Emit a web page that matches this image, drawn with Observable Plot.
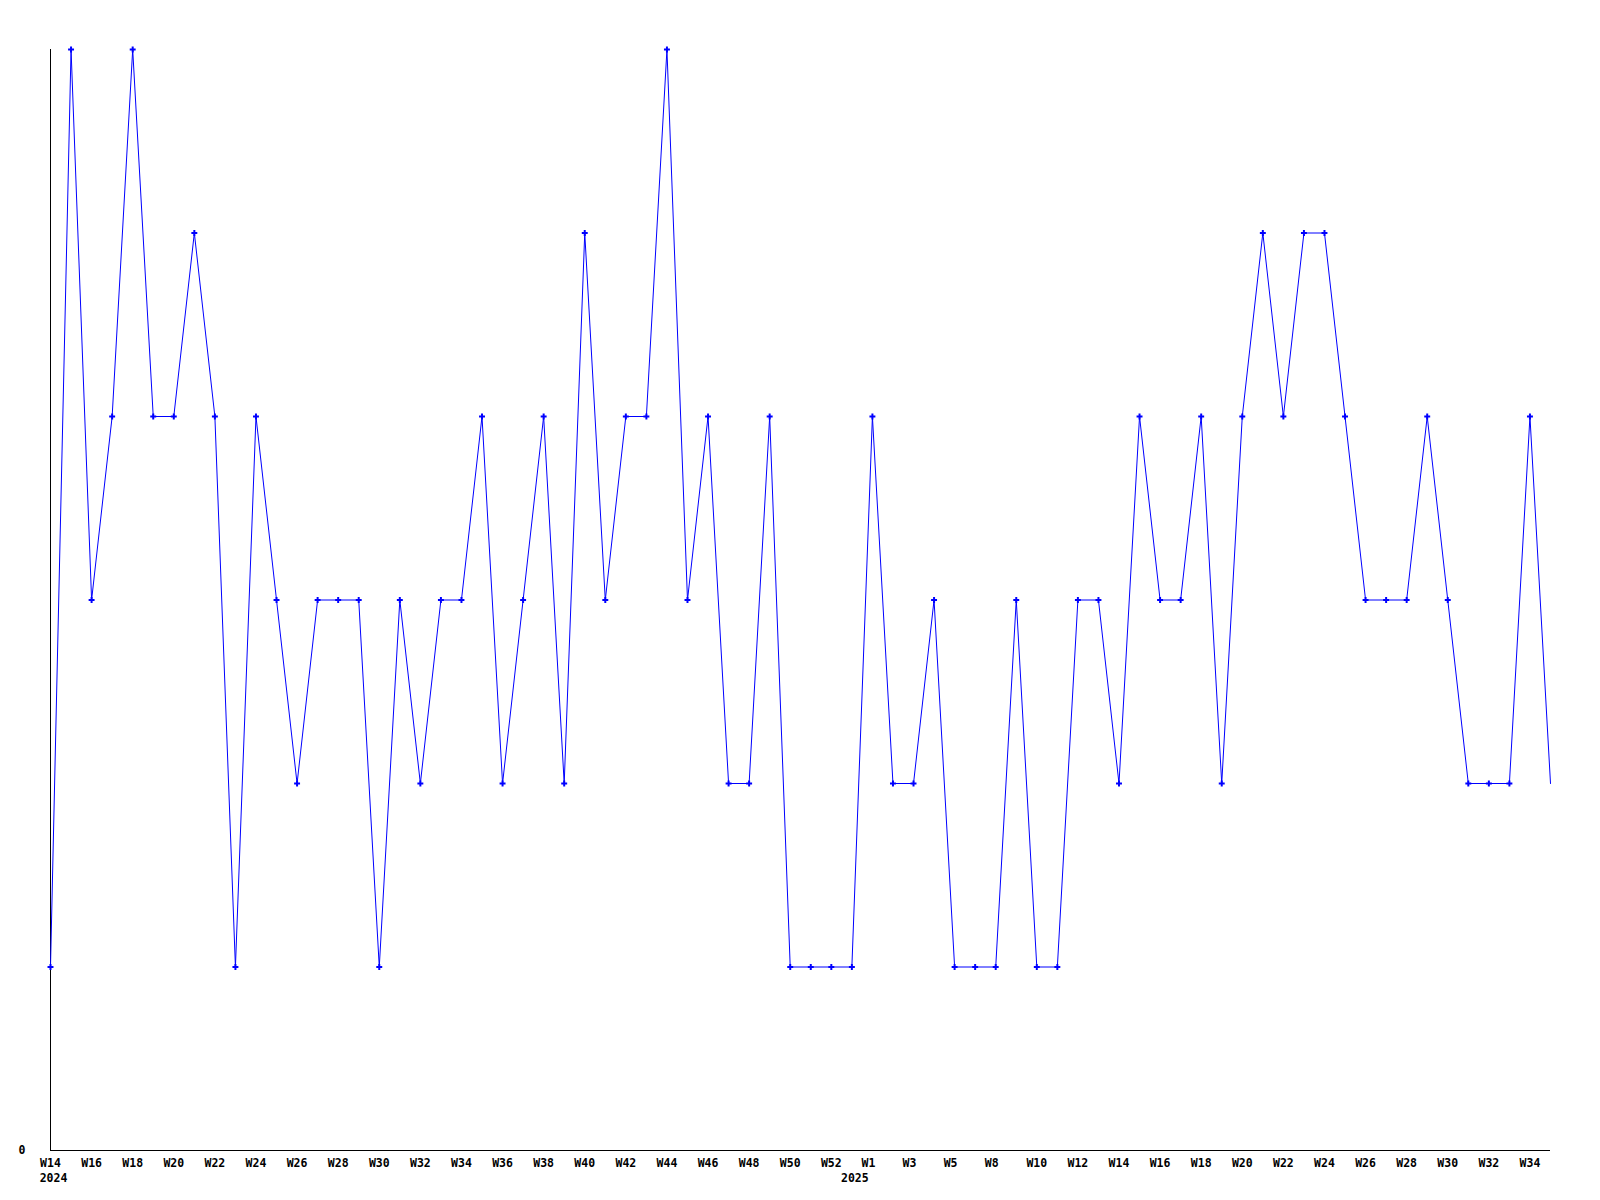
<!DOCTYPE html>
<html>
<head>
<meta charset="utf-8">
<script src="https://cdn.jsdelivr.net/npm/d3@7"></script>
<script src="https://cdn.jsdelivr.net/npm/@observablehq/plot@0.6"></script>
<style>
  html, body { margin: 0; padding: 0; background: #fff; }
  #chart svg { display: block; }
</style>
</head>
<body>
<div id="chart"></div>
<script>
// Weekly values, 2024-W14 through 2025-W35
const weeks = [
  "2024-W14","2024-W15","2024-W16","2024-W17","2024-W18","2024-W19","2024-W20","2024-W21","2024-W22","2024-W23",
  "2024-W24","2024-W25","2024-W26","2024-W27","2024-W28","2024-W29","2024-W30","2024-W31","2024-W32","2024-W33",
  "2024-W34","2024-W35","2024-W36","2024-W37","2024-W38","2024-W39","2024-W40","2024-W41","2024-W42","2024-W43",
  "2024-W44","2024-W45","2024-W46","2024-W47","2024-W48","2024-W49","2024-W50","2024-W51","2024-W52",
  "2025-W01","2025-W02","2025-W03","2025-W04","2025-W05","2025-W06","2025-W07","2025-W08","2025-W09","2025-W10",
  "2025-W11","2025-W12","2025-W13","2025-W14","2025-W15","2025-W16","2025-W17","2025-W18","2025-W19","2025-W20",
  "2025-W21","2025-W22","2025-W23","2025-W24","2025-W25","2025-W26","2025-W27","2025-W28","2025-W29","2025-W30",
  "2025-W31","2025-W32","2025-W33","2025-W34","2025-W35"
];
const values = [
  1,6,3,4,6,4,4,5,4,1,
  4,3,2,3,3,3,1,3,2,3,
  3,4,2,3,4,2,5,3,4,4,
  6,3,4,2,2,4,1,1,1,
  1,4,2,2,3,1,1,1,3,1,
  1,3,3,2,4,3,3,4,2,4,
  5,4,5,5,4,3,3,3,4,3,
  2,2,2,4,2
];
// Tick labels as printed on the reference axis (by point index)
const tickIndex = [0,2,4,6,8,10,12,14,16,18,20,22,24,26,28,30,32,34,36,38,
                   48,50,52,54,56,58,60,62,64,66,68,70,72];
const tickLabels = ["W14","W16","W18","W20","W22","W24","W26","W28","W30","W32","W34","W36","W38","W40",
                    "W42","W44","W46","W48","W50","W52",
                    "W10","W12","W14","W16","W18","W20","W22","W24","W26","W28","W30","W32","W34"];
const tickIndexB = [40,42,44,46];
const tickLabelsB = ["W1","W3","W5","W8"];
const yearIndex = [0,39];
const yearLabels = ["2024","2025"];

const data = values.map((v, i) => ({i, week: weeks[i], value: v}));
const labelMap = new Map(tickIndex.map((t, k) => [t, tickLabels[k]]));
const labelMapB = new Map(tickIndexB.map((t, k) => [t, tickLabelsB[k]]));
const years = yearIndex.map((t, k) => ({i: t, label: yearLabels[k]}));

const font = "'DejaVu Sans Mono', 'Liberation Mono', monospace";
const blue = "#0000ff";

const chart = Plot.plot({
  width: 1600,
  height: 1200,
  marginLeft: 50,
  marginRight: 50,
  marginTop: 49,
  marginBottom: 50,
  style: {fontFamily: font, fontSize: "11.5px", fontWeight: "bold", color: "#000", background: "#fff"},
  x: {domain: [0, values.length - 1], label: null},
  y: {domain: [0, 6], label: null},
  marks: [
    Plot.axisX({ticks: tickIndex, tickFormat: d => labelMap.get(d), tickSize: 0, tickPadding: 8, label: null}),
    Plot.axisX({ticks: tickIndexB, tickFormat: d => labelMapB.get(d), tickSize: 0, tickPadding: 8, dx: -4, label: null}),
    Plot.axisY({ticks: [0], tickFormat: d => String(d), tickSize: 0, tickPadding: 25, label: null}),
    Plot.text(years, {x: "i", text: "label", frameAnchor: "bottom", dy: 27.5, dx: 3, lineAnchor: "middle", fill: "#000"}),
    Plot.ruleY([0], {stroke: "#000", strokeWidth: 1}),
    Plot.ruleX([0], {stroke: "#000", strokeWidth: 1}),
    Plot.line(data, {x: "i", y: "value", stroke: blue, strokeWidth: 1}),
    Plot.dot(data.slice(0, -1), {x: "i", y: "value", symbol: "cross", r: 2.5, fill: blue, stroke: "none"})
  ]
});
document.getElementById("chart").appendChild(chart);
</script>
</body>
</html>
